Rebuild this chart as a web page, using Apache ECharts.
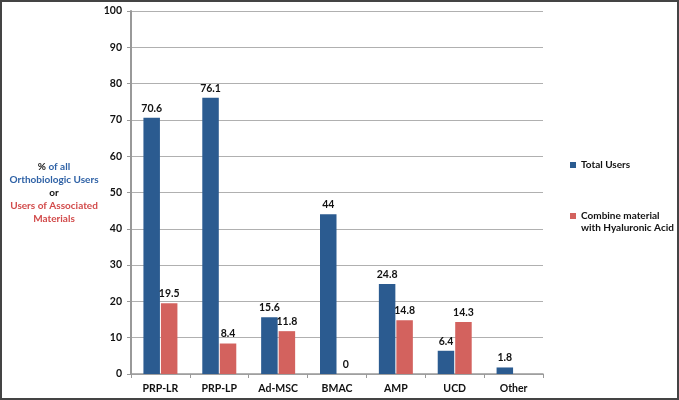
<!DOCTYPE html>
<html><head><meta charset="utf-8">
<script src="https://cdn.jsdelivr.net/npm/echarts@6/dist/echarts.min.js"></script>
<style>html,body{margin:0;padding:0;background:#fff}#c{width:679px;height:400px}</style>
</head><body><div id="c"></div>
<script>
const categories = ['PRP-LR','PRP-LP','Ad-MSC','BMAC','AMP','UCD','Other'];
const totalUsers = [70.6, 76.1, 15.6, 44, 24.8, 6.4, 1.8];
const withHA = [19.5, 8.4, 11.8, 0, 14.8, 14.3, null];
const yTicks = [0,10,20,30,40,50,60,70,80,90,100];
const seriesNames = ['Total Users', 'Combine material with Hyaluronic Acid'];

const FONT = 'Lato';
const chart = echarts.init(document.getElementById('c'));
const lbl = {show:true, position:'top', distance:4, color:'#111', fontFamily:FONT, fontWeight:'bold', fontSize:10.5};
const legTxt = {color:'#111', fontFamily:FONT, fontWeight:'bold', fontSize:10};
chart.setOption({
  animation:false,
  grid:{left:131, right:136, top:11, bottom:26},
  xAxis:{type:'category', data:categories,
    axisLine:{lineStyle:{color:'#999', width:1.5}},
    axisTick:{show:true, length:4, lineStyle:{color:'#999'}},
    axisLabel:{color:'#111', fontFamily:FONT, fontWeight:'bold', fontSize:10.5, margin:9}},
  yAxis:{type:'value', min:yTicks[0], max:yTicks[yTicks.length-1], interval:10,
    axisLine:{show:true, lineStyle:{color:'#999', width:2}},
    axisTick:{show:true, length:4, lineStyle:{color:'#999'}},
    splitLine:{lineStyle:{color:'#b0b0b0', width:1}},
    axisLabel:{color:'#111', fontFamily:FONT, fontWeight:'bold', fontSize:10.5, margin:9}},
  legend:[
    {data:[seriesNames[0]], left:570, top:160, padding:0, orient:'vertical', itemWidth:6, itemHeight:6, itemGap:0,
      icon:'rect', textStyle:legTxt},
    {data:[seriesNames[1]], left:570, top:211, padding:0, orient:'vertical', itemWidth:6, itemHeight:6, itemGap:0,
      icon:'rect', formatter:n=>n.split(' with')[0], textStyle:legTxt}
  ],
  series:[
    {name:seriesNames[0], type:'bar', data:totalUsers, barWidth:16.5, barGap:'6%', barCategoryGap:'41%',
      itemStyle:{color:'#2B5B90'}, label:lbl},
    {name:seriesNames[1], type:'bar', data:withHA, barWidth:16.5,
      itemStyle:{color:'#D3625E'}, label:lbl}
  ],
  graphic:[
    {type:'rect', shape:{x:1, y:1, width:677, height:398}, style:{fill:'none', stroke:'#444', lineWidth:2}, silent:true},
    {type:'text', x:581, y:227.5, silent:true, style:{
      text:'with' + seriesNames[1].split(' with')[1], align:'left', verticalAlign:'middle',
      fill:'#111', fontFamily:FONT, fontWeight:'bold', fontSize:10}},
    {type:'text', x:54, y:193, silent:true, style:{
      text:'{k|% }{b|of all}\n{b|Orthobiologic Users}\n{k|or}\n{r|Users of Associated}\n{r|Materials}',
      align:'center', verticalAlign:'middle', lineHeight:13,
      fontFamily:FONT, fontWeight:'bold', fontSize:10,
      rich:{k:{fill:'#111', fontFamily:FONT, fontWeight:'bold', fontSize:10, lineHeight:13},
            b:{fill:'#2F62A6', fontFamily:FONT, fontWeight:'bold', fontSize:10, lineHeight:13},
            r:{fill:'#D24B4B', fontFamily:FONT, fontWeight:'bold', fontSize:10, lineHeight:13}}
    }}
  ]
});
</script></body></html>
